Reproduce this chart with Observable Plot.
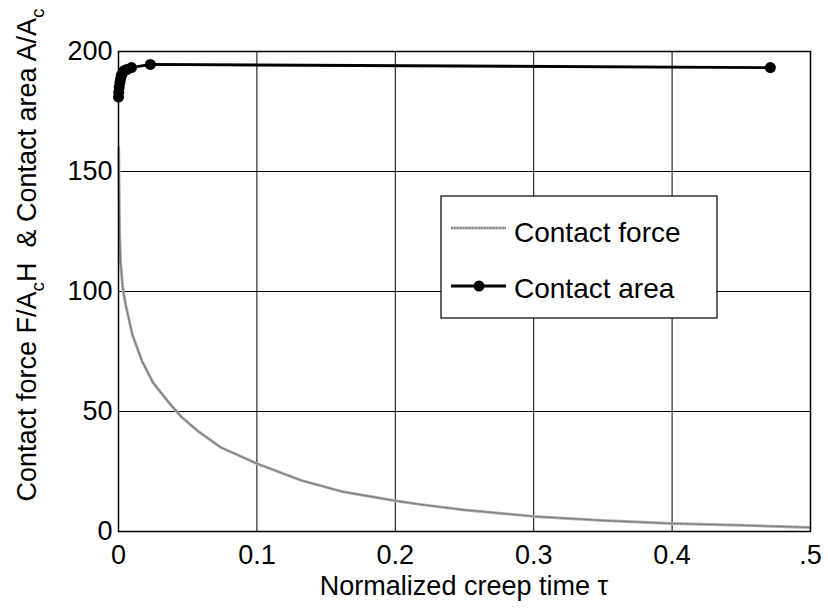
<!DOCTYPE html>
<html><head><meta charset="utf-8">
<script src="https://cdn.jsdelivr.net/npm/d3@7"></script>
<script src="https://cdn.jsdelivr.net/npm/@observablehq/plot@0.6"></script>
<style>body{margin:0;background:#fff}</style>
</head><body><div id="chart"></div>
<script>
const forceTau = [0.0001, 0.0008, 0.0015, 0.003, 0.005, 0.01, 0.017, 0.025, 0.036, 0.045, 0.057, 0.074, 0.1, 0.132, 0.161, 0.2, 0.219, 0.25, 0.3, 0.35, 0.4, 0.45, 0.5];
const forceVal = [160, 125, 112, 102, 95, 82, 71, 62, 54, 48, 42, 35, 28.3, 21.3, 16.7, 12.8, 11.2, 9, 6.3, 4.6, 3.3, 2.6, 1.7];
const areaTau = [0, 0.0002, 0.0005, 0.001, 0.0015, 0.002, 0.003, 0.004, 0.006, 0.0094, 0.023, 0.471];
const areaVal = [181, 183, 185, 187, 188.5, 190, 191, 192, 192.5, 193.3, 194.6, 193.3];
const xTicks = [0, 0.1, 0.2, 0.3, 0.4, 0.5];
const xTickLabels = ["0", "0.1", "0.2", "0.3", "0.4", ".5"];
const yTicks = [0, 50, 100, 150, 200];
const seriesNames = ["Contact force", "Contact area"];

const force = forceTau.map((t, i) => ({t, v: forceVal[i]}));
const area = areaTau.map((t, i) => ({t, v: areaVal[i]}));
const FONT = "'Liberation Sans', Arial, Helvetica, sans-serif";

const chart = Plot.plot({
  width: 828, height: 608,
  marginLeft: 118, marginRight: 18, marginTop: 51, marginBottom: 77,
  style: {fontFamily: FONT, fontSize: "27px", color: "black", background: "white"},
  x: {domain: [0, 0.5], label: null},
  y: {domain: [0, 200], label: null},
  marks: [
    Plot.gridX(xTicks, {stroke: "black", strokeOpacity: 1, strokeWidth: 1}),
    Plot.gridY(yTicks, {stroke: "black", strokeOpacity: 1, strokeWidth: 1}),
    Plot.axisX(xTicks, {tickSize: 0, tickPadding: 13, fontSize: 27, tickFormat: d => xTickLabels[xTicks.indexOf(d)], label: null}),
    Plot.axisY(yTicks, {tickSize: 0, tickPadding: 6, fontSize: 27, label: null}),
    Plot.line(force, {x: "t", y: "v", stroke: "#b4b4b4", strokeWidth: 3}),
    Plot.line(force, {x: "t", y: "v", stroke: "#7a7a7a", strokeWidth: 1.4, strokeDasharray: "1.5,1.5"}),
    Plot.line(area, {x: "t", y: "v", stroke: "black", strokeWidth: 2.8}),
    Plot.dot(area, {x: "t", y: "v", r: 5.5, fill: "black", stroke: "none"}),
    Plot.frame({stroke: "black", strokeWidth: 1.5})
  ]
});
document.getElementById("chart").appendChild(chart);

const svg = d3.select(chart);
// x axis title
svg.append("text").attr("x", 464).attr("y", 595).attr("text-anchor", "middle")
  .style("font-family", FONT).style("font-size", "27px").attr("fill", "black")
  .text("Normalized creep time τ");
// y axis title
const yt = svg.append("text").attr("transform", "translate(36,255) rotate(-90)")
  .attr("text-anchor", "middle").style("font-family", FONT).style("font-size", "27px").attr("fill", "black");
yt.append("tspan").text("Contact force F/A");
yt.append("tspan").attr("dy", 8).style("font-size", "19px").text("c");
yt.append("tspan").attr("dy", -8).text("H  & Contact area A/A");
yt.append("tspan").attr("dy", 8).style("font-size", "19px").text("c");

// legend
const lg = svg.append("g");
lg.append("rect").attr("x", 441).attr("y", 196).attr("width", 276).attr("height", 122)
  .attr("fill", "white").attr("stroke", "black").attr("stroke-width", 1.2);
lg.append("line").attr("x1", 451).attr("x2", 506).attr("y1", 228).attr("y2", 228)
  .attr("stroke", "#b4b4b4").attr("stroke-width", 3);
lg.append("line").attr("x1", 451).attr("x2", 506).attr("y1", 228).attr("y2", 228)
  .attr("stroke", "#7a7a7a").attr("stroke-width", 1.4).attr("stroke-dasharray", "1.5,1.5");
lg.append("line").attr("x1", 451).attr("x2", 506).attr("y1", 286).attr("y2", 286)
  .attr("stroke", "black").attr("stroke-width", 2.8);
lg.append("circle").attr("cx", 479).attr("cy", 286).attr("r", 5.5).attr("fill", "black");
lg.selectAll("text.lab").data(seriesNames).join("text").attr("class", "lab")
  .attr("x", 514).attr("y", (d, i) => i === 0 ? 242 : 298).attr("text-anchor", "start")
  .style("font-family", FONT).style("font-size", "28px").attr("fill", "black").text(d => d);
</script>
</body></html>
